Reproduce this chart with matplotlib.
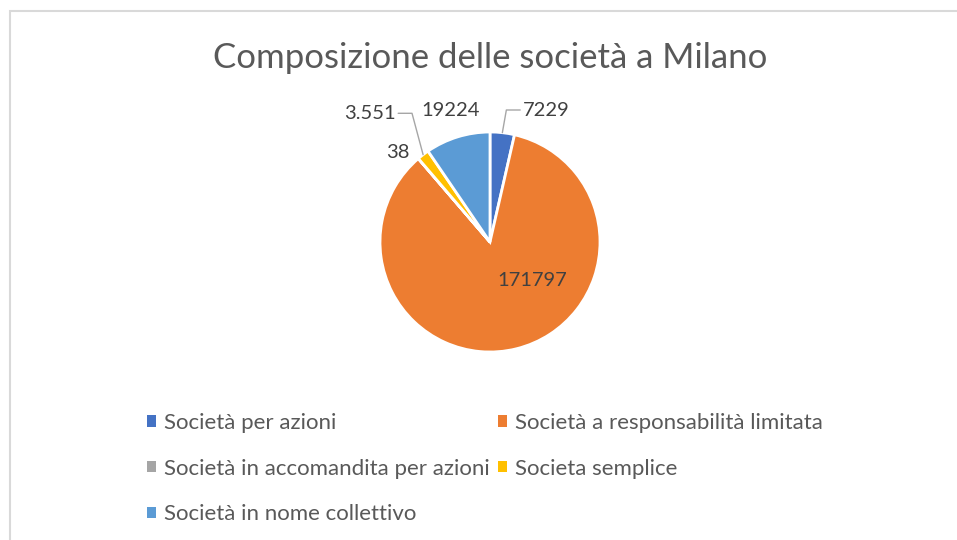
import matplotlib
matplotlib.use("Agg")
import matplotlib.pyplot as plt
from matplotlib.patches import Rectangle, Patch
import numpy as np

plt.rcParams['font.family'] = ['Lato', 'DejaVu Sans']

# data
categories = ['Società per azioni', 'Società a responsabilità limitata',
              'Società in accomandita per azioni', 'Societa semplice',
              'Società in nome collettivo']
values = [7229, 171797, 38, 3551, 19224]
value_labels = ['7229', '171797', '38', '3.551', '19224']
colors = ['#4472C4', '#ED7D31', '#A5A5A5', '#FFC000', '#5B9BD5']

fig = plt.figure(figsize=(9.57, 5.40), dpi=100)
fig.patches.append(Rectangle((10 / 957, -0.1), 1.2, 1 - 11 / 540 + 0.1,
                             transform=fig.transFigure, fill=False,
                             edgecolor='#D9D9D9', linewidth=1.5))

fig.text(490 / 957, 1 - 58 / 540, 'Composizione delle società a Milano',
         ha='center', va='center', fontsize=25, color='#595959')

# pie: centre ~(490, 242), radius ~110 px
r_px = 110
ax = fig.add_axes([(490 - r_px) / 957, 1 - (242 + r_px) / 540,
                   2 * r_px / 957, 2 * r_px / 540])
wedges, _ = ax.pie(values, colors=colors, startangle=90, counterclock=False,
                   wedgeprops=dict(edgecolor='white', linewidth=2))
ax.set_xlim(-1, 1)
ax.set_ylim(-1, 1)
ax.set_aspect('equal')

# angle of each wedge's middle, in degrees
mids = np.array([(w.theta1 + w.theta2) / 2 for w in wedges])

lab_kw = dict(fontsize=14.5, color='#404040', va='center')
# 7229 with leader line
a = np.deg2rad(mids[0])
ax.annotate(value_labels[0], xy=(np.cos(a), np.sin(a)), xytext=(0.30, 1.20),
            ha='left', arrowprops=dict(arrowstyle='-', color='#A6A6A6',
                                       lw=1, shrinkA=0, shrinkB=0,
                                       connectionstyle='angle,angleA=0,angleB=80,rad=0'),
            **lab_kw)
# 171797 inside the big slice
ax.text(0.38, -0.35, value_labels[1], ha='center', **lab_kw)
# 38 beside the tiny grey slice
a = np.deg2rad(mids[2])
ax.text(1.05 * np.cos(a) - 0.05, 1.05 * np.sin(a) + 0.02, value_labels[2],
        ha='right', **lab_kw)
# 3.551 with leader line
a = np.deg2rad(mids[3])
ax.annotate(value_labels[3], xy=(np.cos(a), np.sin(a)), xytext=(-0.86, 1.17),
            ha='right', arrowprops=dict(arrowstyle='-', color='#A6A6A6',
                                        lw=1, shrinkA=0, shrinkB=0,
                                        connectionstyle='angle,angleA=0,angleB=-75,rad=0'),
            **lab_kw)
# 19224 outside
ax.text(-0.36, 1.20, value_labels[4], ha='center', **lab_kw)

# legend laid out row by row like the reference
order = [0, 2, 4, 1, 3]
handles = [Patch(facecolor=colors[i], edgecolor='none') for i in order]
fig.legend(handles, [categories[i] for i in order], ncol=2,
           loc='upper left', bbox_to_anchor=(136 / 957, 1 - 402 / 540),
           frameon=False, fontsize=16, labelcolor='#595959',
           handlelength=0.42, handleheight=0.42, handletextpad=0.35,
           columnspacing=0.35, labelspacing=1.15, borderpad=0)

fig.savefig('out.png', dpi=100)
